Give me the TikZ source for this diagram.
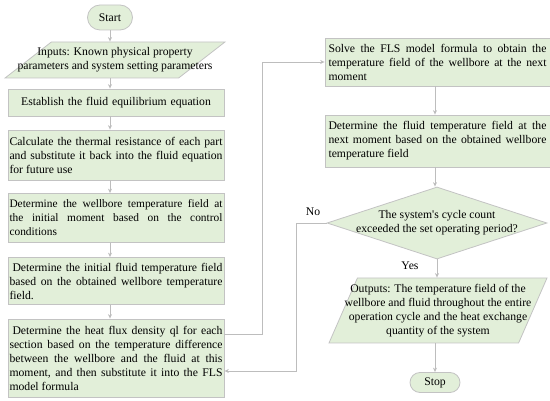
\documentclass[tikz,border=0pt]{standalone}
\usepackage{fontspec}
\setmainfont{Liberation Serif}
\usetikzlibrary{shapes.geometric,arrows.meta}
\definecolor{boxfill}{HTML}{E2EFD9}
\definecolor{boxline}{HTML}{C3C3C3}
\definecolor{arrowc}{HTML}{BDBDBD}
\hyphenpenalty=10000
\exhyphenpenalty=10000
\begin{document}
\begin{tikzpicture}[x=1pt,y=-1pt,
  font=\fontsize{11.7}{14}\selectfont,
  base/.style={draw=boxline,fill=boxfill,line width=0.8pt},
  lbox/.style={base,rectangle,inner xsep=1.5pt,inner ysep=0pt,text width=213pt,align=justify,minimum width=216pt},
  rbox/.style={base,rectangle,inner xsep=3.5pt,inner ysep=0pt,text width=218pt,align=justify,minimum width=225pt},
  term/.style={base,rectangle,rounded corners=#1,inner sep=0pt},
  paral/.style={base,trapezium,trapezium stretches=true,inner sep=2pt},
  dec/.style={base,diamond,inner sep=2pt},
  txt/.style={inner sep=0pt,align=center},
  arr/.style={draw=arrowc,line width=0.8pt,-{Stealth[length=4.5pt,width=4pt]}}
]
\useasboundingbox (0,0) rectangle (550,401);

% left column
\node[term=12.5pt,minimum width=45pt,minimum height=25pt] (start) at (110,17.5) {Start};
\node[paral,trapezium left angle=70,trapezium right angle=110,minimum width=220pt,minimum height=36pt] (inputs) at (115,60) {};
\node[txt] (inputs-t) at (inputs) {Inputs: Known physical property\\parameters and system setting parameters};
\node[lbox,align=center,minimum height=27pt] (establish) at (116,102.5) {Establish the fluid equilibrium equation};
\node[lbox,minimum height=50pt] (calc) at (116,155) {Calculate the thermal resistance of each part and substitute it back into the fluid equation for future use};
\node[lbox,minimum height=49pt,font=\fontsize{11.4}{14}\selectfont] (wellbore) at (116,218) {Determine the wellbore temperature field at\linebreak the initial moment based on the control\linebreak conditions};
\node[lbox,minimum height=47pt] (initial) at (116,281) {\hspace*{3pt}Determine the initial fluid temperature field based on the obtained wellbore temperature field.};
\node[lbox,minimum height=78pt] (heatflux) at (116,358) {\hspace*{3pt}Determine the heat flux density ql for each section based on the temperature difference between the wellbore and the fluid at this moment, and then substitute it into the FLS model formula};

% right column
\node[rbox,minimum height=48pt] (solve) at (437.5,62) {Solve the FLS model formula to obtain the temperature field of the wellbore at the next moment};
\node[rbox,minimum height=52pt] (fluidnext) at (437.5,141) {Determine the fluid temperature field at the next moment based on the obtained wellbore temperature field};
\node[dec,minimum width=220pt,minimum height=72pt] (dia) at (437,223) {};
\node[txt] (dia-t) at (437,223) {The system\textquotesingle s cycle count\\exceeded the set operating period?};
\node[paral,trapezium left angle=80,trapezium right angle=100,minimum width=218pt,minimum height=65pt] (outputs) at (438,310.5) {};
\node[txt] (outputs-t) at (outputs) {Outputs: The temperature field of the\\wellbore and fluid throughout the entire\\operation cycle and the heat exchange\\quantity of the system};
\node[term=10pt,minimum width=50pt,minimum height=20pt] (stop) at (435,382.5) {Stop};

\node[inner sep=0pt] (no) at (313,212) {No};
\node[inner sep=0pt] (yes) at (410,266) {Yes};

% connectors
\draw[arr] (start.south) -- (inputs.north -| start);
\draw[arr] (inputs.south -| start) -- (establish.north -| start);
\draw[arr] (establish.south -| start) -- (calc.north -| start);
\draw[arr] (calc.south -| start) -- (wellbore.north -| start);
\draw[arr] (wellbore.south -| start) -- (initial.north -| start);
\draw[arr] (initial.south -| start) -- (heatflux.north -| start);

\coordinate (lx) at (262,62);
\draw[arr] ([yshift=-16pt]heatflux.north east) -| (lx) -- (solve.west);

\draw[arr] (solve.south -| stop) -- (fluidnext.north -| stop);
\draw[arr] (fluidnext.south -| stop) -- (dia.north -| stop);
\draw[arr] (dia.south) -- (outputs.north -| dia);
\draw[arr] (outputs.south -| stop) -- (stop.north);

\coordinate (nx) at (296,371);
\draw[arr] (dia.west) -| (nx) -- (nx -| heatflux.east);
\end{tikzpicture}
\end{document}
